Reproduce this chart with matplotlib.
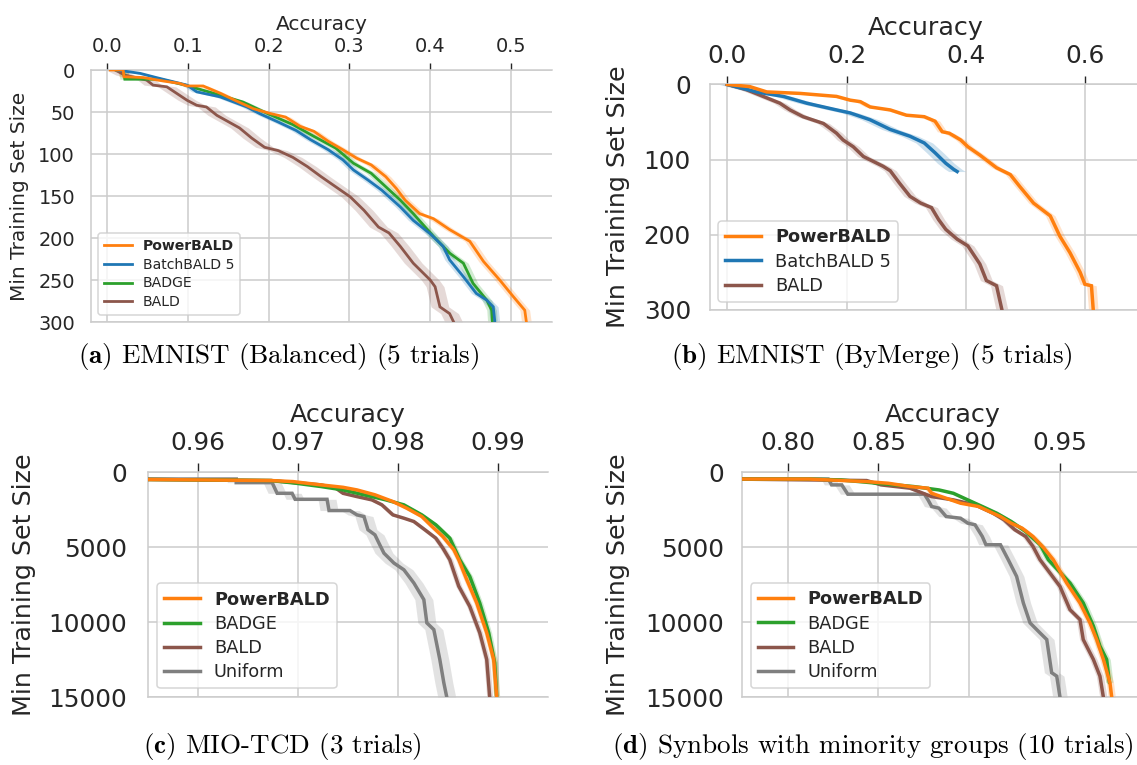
import matplotlib
matplotlib.use("Agg")
import matplotlib.pyplot as plt
from matplotlib.ticker import FormatStrFormatter, FixedLocator

plt.rcParams.update({
    "font.family": "DejaVu Sans",
    "mathtext.fontset": "cm",
    "axes.unicode_minus": False,
})

ORANGE, BLUE, GREEN, BROWN, GRAY = "#ff7f0e", "#1f77b4", "#2ca02c", "#8c564b", "#7f7f7f"
GRID = "#cccccc"
INK = "#262626"

# ---------------- (a) EMNIST (Balanced) ----------------
a_power_acc = [0.004, 0.020, 0.021, 0.045, 0.069, 0.090, 0.099, 0.119, 0.141, 0.156, 0.181, 0.203,
               0.221, 0.239, 0.256, 0.274, 0.292, 0.309, 0.327, 0.345, 0.358, 0.369, 0.387, 0.404,
               0.424, 0.449, 0.466, 0.486, 0.503, 0.517, 0.519]
a_power_size = [0, 0, 8, 9, 13, 16, 19, 19, 28, 35, 46, 52, 56, 67, 73, 85, 95, 105, 113, 127, 141,
                155, 171, 177, 190, 204, 228, 250, 270, 286, 300]
a_batch_acc = [0.012, 0.041, 0.061, 0.099, 0.111, 0.140, 0.173, 0.189, 0.212, 0.234, 0.252, 0.274,
               0.292, 0.305, 0.323, 0.340, 0.363, 0.379, 0.400, 0.416, 0.424, 0.441, 0.457, 0.470,
               0.478, 0.480]
a_batch_size = [0, 4, 9, 18, 26, 32, 44, 52, 62, 72, 83, 95, 107, 119, 131, 143, 163, 179, 195, 210,
                226, 246, 266, 274, 282, 300]
a_badge_acc = [0.012, 0.020, 0.022, 0.066, 0.097, 0.133, 0.168, 0.199, 0.230, 0.256, 0.283, 0.305,
               0.327, 0.345, 0.363, 0.379, 0.404, 0.424, 0.441, 0.453, 0.470, 0.476, 0.477]
a_badge_size = [0, 0, 11, 11, 18, 28, 38, 52, 65, 79, 93, 111, 123, 139, 155, 171, 198, 218, 230,
                254, 274, 286, 300]
a_bald_acc = [0.010, 0.022, 0.049, 0.057, 0.074, 0.099, 0.111, 0.123, 0.136, 0.164, 0.179, 0.195,
              0.212, 0.230, 0.248, 0.265, 0.283, 0.301, 0.318, 0.336, 0.349, 0.363, 0.379, 0.400,
              0.406, 0.412, 0.424, 0.429]
a_bald_size = [0, 6, 12, 18, 20, 36, 42, 44, 54, 69, 81, 92, 96, 104, 115, 127, 139, 151, 167, 187,
               194, 210, 230, 250, 258, 282, 290, 300]

# ---------------- (b) EMNIST (ByMerge) ----------------
b_power_acc = [0.000, 0.038, 0.066, 0.122, 0.183, 0.206, 0.223, 0.239, 0.273, 0.300, 0.330, 0.348,
               0.360, 0.372, 0.391, 0.403, 0.423, 0.451, 0.474, 0.490, 0.513, 0.541, 0.557, 0.574,
               0.591, 0.599, 0.610, 0.613]
b_power_size = [0, 3, 10, 12, 16, 21, 23, 30, 34, 41, 43, 49, 63, 65, 74, 83, 94, 111, 120, 136,
                158, 175, 202, 224, 250, 266, 268, 300]
b_batch_acc = [0.000, 0.049, 0.094, 0.133, 0.183, 0.206, 0.239, 0.273, 0.306, 0.330, 0.348, 0.366,
               0.379, 0.385]
b_batch_size = [0, 10, 16, 25, 34, 38, 47, 60, 69, 78, 91, 105, 113, 116]
b_bald_acc = [0.000, 0.032, 0.060, 0.088, 0.105, 0.127, 0.161, 0.183, 0.194, 0.211, 0.228, 0.261,
              0.273, 0.288, 0.306, 0.324, 0.342, 0.354, 0.366, 0.385, 0.403, 0.423, 0.434, 0.451,
              0.460]
b_bald_size = [0, 7, 16, 25, 34, 43, 52, 65, 74, 83, 96, 109, 115, 131, 149, 158, 164, 180, 193,
               206, 215, 239, 261, 268, 300]

# ---------------- (c) MIO-TCD ----------------
c_power_acc = [0.9500, 0.9673, 0.9695, 0.9723, 0.9745, 0.9759, 0.9777, 0.9795, 0.9809, 0.9824,
               0.9834, 0.9845, 0.9856, 0.9861, 0.9869, 0.9879, 0.9889, 0.9896, 0.9899]
c_power_size = [450, 550, 620, 840, 1000, 1175, 1500, 1950, 2400, 2950, 3600, 4280, 5160, 5830,
                7160, 8710, 10700, 12480, 15000]
c_badge_acc = [0.9500, 0.9673, 0.9698, 0.9723, 0.9745, 0.9766, 0.9788, 0.9806, 0.9824, 0.9838,
               0.9852, 0.9862, 0.9872, 0.9882, 0.9891, 0.9897, 0.9899]
c_badge_size = [450, 550, 730, 950, 1175, 1500, 1840, 2170, 2840, 3500, 4390, 5830, 6940, 8710,
                10700, 12700, 15000]
c_bald_acc = [0.9500, 0.9673, 0.9723, 0.9738, 0.9745, 0.9759, 0.9774, 0.9784, 0.9795, 0.9806,
              0.9816, 0.9827, 0.9838, 0.9845, 0.9852, 0.9861, 0.9872, 0.9882, 0.9889, 0.9892]
c_bald_size = [450, 550, 840, 1060, 1400, 1620, 1840, 2170, 2840, 3060, 3280, 3830, 4390, 5050,
               5830, 7600, 8940, 10700, 12480, 15000]
c_unif_acc = [0.9500, 0.9638, 0.9638, 0.9674, 0.9679, 0.9694, 0.9697, 0.9729, 0.9731, 0.9752,
              0.9759, 0.9766, 0.9770, 0.9777, 0.9781, 0.9786, 0.9796, 0.9806, 0.9816, 0.9826,
              0.9829, 0.9836, 0.9842, 0.9846, 0.9849]
c_unif_size = [450, 450, 690, 690, 1400, 1400, 1800, 1800, 2550, 2550, 2840, 2950, 3830, 4170,
               4720, 5390, 6050, 6500, 7380, 8490, 10040, 10490, 12480, 14030, 15000]

# ---------------- (d) Synbols with minority groups ----------------
d_power_acc = [0.770, 0.8116, 0.8435, 0.8554, 0.8674, 0.8773, 0.8793, 0.8873, 0.8952, 0.9052,
               0.9112, 0.9172, 0.9231, 0.9291, 0.9351, 0.9411, 0.9463, 0.9537, 0.9610, 0.9665,
               0.9702, 0.9739, 0.9775, 0.9785]
d_power_size = [450, 450, 620, 730, 950, 1060, 1400, 1730, 2060, 2280, 2620, 2950, 3390, 3720,
                4280, 5050, 5830, 7380, 8710, 10040, 11150, 12480, 14030, 15000]
d_badge_acc = [0.770, 0.8116, 0.8294, 0.8494, 0.8694, 0.8833, 0.8913, 0.8992, 0.9072, 0.9152,
               0.9231, 0.9311, 0.9391, 0.9436, 0.9555, 0.9628, 0.9684, 0.9720, 0.9757, 0.9772]
d_badge_size = [450, 450, 510, 730, 950, 1175, 1400, 1840, 2280, 2730, 3280, 3950, 4830, 5830,
                7380, 8710, 10260, 11590, 12480, 14000]
d_bald_acc = [0.770, 0.8435, 0.8514, 0.8674, 0.8793, 0.8913, 0.9032, 0.9132, 0.9192, 0.9251,
              0.9311, 0.9351, 0.9390, 0.9445, 0.9500, 0.9555, 0.9610, 0.9628, 0.9684, 0.9720,
              0.9739]
d_bald_size = [450, 550, 840, 1060, 1620, 1840, 2170, 2730, 3170, 3830, 4280, 4940, 5830, 6720,
               7610, 9160, 9820, 11150, 12480, 13590, 15000]
d_unif_acc = [0.770, 0.8224, 0.8242, 0.8298, 0.8331, 0.8753, 0.8773, 0.8793, 0.8833, 0.8873,
              0.8952, 0.8992, 0.9032, 0.9072, 0.9092, 0.9172, 0.9215, 0.9261, 0.9298, 0.9335,
              0.9390, 0.9427, 0.9454, 0.9482, 0.9500]
d_unif_size = [450, 450, 840, 840, 1460, 1460, 1840, 2280, 2390, 2950, 3060, 3390, 3500, 4280,
               4830, 4830, 5830, 6940, 8710, 10040, 10710, 11150, 13360, 13590, 15000]

# accuracy spread across trials (half-width of the shaded band)
a_spread = {"PowerBALD": 0.006, "BatchBALD 5": 0.006, "BADGE": 0.006, "BALD": 0.011}
b_spread = {"PowerBALD": 0.008, "BatchBALD 5": 0.014, "BALD": 0.010}
c_spread = {"PowerBALD": 0.0003, "BADGE": 0.0003, "BALD": 0.0003, "Uniform": 0.0009}
d_spread = {"PowerBALD": 0.002, "BADGE": 0.002, "BALD": 0.002, "Uniform": 0.004}

W, H = 1137, 765
fig = plt.figure(figsize=(W / 100, H / 100), dpi=100)


def make_axes(left, right, top, bottom):
    return fig.add_axes([left / W, 1 - bottom / H, (right - left) / W, (bottom - top) / H])


def draw_panel(ax, series, spread, xlim, ylim, xticks, yticks, fmt, fs_tick, fs_label,
               fs_leg, lw, tick_len, tick_pad, ytick_pad, ylab_x, xlab_y, xlab_x, leg_xy):
    handles = []
    for label, acc, size, color in reversed(series):
        sp = spread[label]
        lo = [v - sp for v in acc]
        hi = [v + sp for v in acc]
        ax.fill_betweenx(size, lo, hi, color=color, alpha=0.22, lw=0, zorder=2)
    for label, acc, size, color in reversed(series):
        h, = ax.plot(acc, size, color=color, lw=lw, zorder=3, label=label,
                     solid_joinstyle="miter")
        handles.append(h)
    handles = handles[::-1]

    ax.set_xlim(*xlim)
    ax.set_ylim(*ylim)
    ax.xaxis.set_major_locator(FixedLocator(xticks))
    ax.yaxis.set_major_locator(FixedLocator(yticks))
    ax.xaxis.set_major_formatter(FormatStrFormatter(fmt))
    ax.xaxis.tick_top()
    ax.xaxis.set_label_position("top")
    ax.tick_params(axis="x", which="major", length=tick_len, width=1.0, color=INK,
                   labelsize=fs_tick, labelcolor=INK, pad=tick_pad, top=True, bottom=False)
    ax.tick_params(axis="y", which="major", length=0, labelsize=fs_tick, labelcolor=INK,
                   pad=ytick_pad)
    ax.grid(True, color=GRID, lw=1.1, zorder=0)
    ax.set_axisbelow(True)
    for name, sp in ax.spines.items():
        sp.set_color(GRID)
        sp.set_linewidth(1.1)
    ax.spines["right"].set_visible(False)

    ax.set_xlabel("Accuracy", fontsize=fs_label, color=INK)
    ax.set_ylabel("Min Training Set Size", fontsize=fs_label, color=INK)
    ax.xaxis.set_label_coords(xlab_x, xlab_y)
    ax.yaxis.set_label_coords(ylab_x, 0.5)

    leg = ax.legend(handles=handles, loc="lower left", bbox_to_anchor=leg_xy,
                    borderaxespad=0, fontsize=fs_leg, labelspacing=0.35,
                    frameon=True, fancybox=True, framealpha=0.8, edgecolor=GRID)
    leg.get_frame().set_linewidth(1.1)
    for t in leg.get_texts():
        t.set_color(INK)
        if t.get_text() == "PowerBALD":
            t.set_fontweight("bold")
    for l in leg.get_lines():
        l.set_linewidth(lw)


ax_a = make_axes(91, 552, 70, 322)
draw_panel(ax_a,
           [("PowerBALD", a_power_acc, a_power_size, ORANGE),
            ("BatchBALD 5", a_batch_acc, a_batch_size, BLUE),
            ("BADGE", a_badge_acc, a_badge_size, GREEN),
            ("BALD", a_bald_acc, a_bald_size, BROWN)],
           a_spread, (-0.0198, 0.5507), (300, 0),
           [0.0, 0.1, 0.2, 0.3, 0.4, 0.5], [0, 50, 100, 150, 200, 250, 300], "%.1f",
           13.9, 14.5, 10.1, 2.0, 5.3, 4.6, 11.5, -0.135, 1.159, 0.5, (0.0152, 0.0278))

ax_b = make_axes(710, 1137, 84.4, 309.8)
draw_panel(ax_b,
           [("PowerBALD", b_power_acc, b_power_size, ORANGE),
            ("BatchBALD 5", b_batch_acc, b_batch_size, BLUE),
            ("BALD", b_bald_acc, b_bald_size, BROWN)],
           b_spread, (-0.029, 0.6863), (300, 0),
           [0.0, 0.2, 0.4, 0.6], [0, 100, 200, 300], "%.1f",
           17.8, 18.3, 12.8, 2.5, 5.8, 6.1, 13.7, -0.1864, 1.219, 0.506, (0.0194, 0.0346))

ax_c = make_axes(147.7, 547.7, 472.3, 697.3)
draw_panel(ax_c,
           [("PowerBALD", c_power_acc, c_power_size, ORANGE),
            ("BADGE", c_badge_acc, c_badge_size, GREEN),
            ("BALD", c_bald_acc, c_bald_size, BROWN),
            ("Uniform", c_unif_acc, c_unif_size, GRAY)],
           c_spread, (0.95493, 0.99501), (15000, 0),
           [0.96, 0.97, 0.98, 0.99], [0, 5000, 10000, 15000], "%.2f",
           17.8, 18.3, 12.8, 2.5, 6.5, 6.0, 15.0, -0.278, 1.225, 0.5, (0.0233, 0.040))

ax_d = make_axes(742.3, 1137, 472.3, 697.3)
draw_panel(ax_d,
           [("PowerBALD", d_power_acc, d_power_size, ORANGE),
            ("BADGE", d_badge_acc, d_badge_size, GREEN),
            ("BALD", d_bald_acc, d_bald_size, BROWN),
            ("Uniform", d_unif_acc, d_unif_size, GRAY)],
           d_spread, (0.775, 0.99241), (15000, 0),
           [0.80, 0.85, 0.90, 0.95], [0, 5000, 10000, 15000], "%.2f",
           17.8, 18.3, 12.8, 2.5, 6.5, 6.0, 13.4, -0.2835, 1.225, 0.507, (0.0215, 0.041))

# sub-figure captions
captions = [
    (279, 356, r"$\mathbf{(a)}$ EMNIST (Balanced) (5 trials)"),
    (872, 356, r"$\mathbf{(b)}$ EMNIST (ByMerge) (5 trials)"),
    (282, 746, r"$\mathbf{(c)}$ MIO-TCD (3 trials)"),
    (873, 747, r"$\mathbf{(d)}$ Synbols with minority groups (10 trials)"),
]
for x, y, s in captions:
    fig.text(x / W, 1 - y / H, s, ha="center", va="center", fontsize=19.5,
             family="cmr10", color="black")

fig.savefig("out.png", dpi=100)
